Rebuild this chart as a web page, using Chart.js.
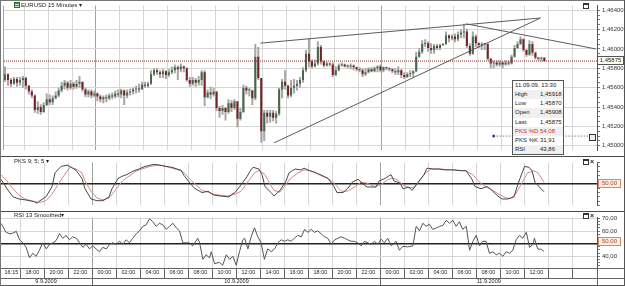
<!DOCTYPE html>
<html>
<head>
<meta charset="utf-8">
<title>EURUSD 15 Minutes</title>
<script src="https://cdn.jsdelivr.net/npm/chart.js@4.4.1/dist/chart.umd.min.js"></script>
<style>
    html, body { margin: 0; padding: 0; background: #fff; }
    #chart-box { position: relative; width: 625px; height: 286px; overflow: hidden; background: #fff;
        font-family: "Liberation Sans", Arial, sans-serif; font-size: 6px; color: #222; }
    #chart-box canvas { position: absolute; left: 0; }
    #price-canvas { top: 0; }
    #stoch-canvas { top: 157px; }
    #rsi-canvas { top: 212px; }
    .rule { position: absolute; background: #4a4a4a; }
    .txt { position: absolute; white-space: nowrap; line-height: 7px; }
    .ico-title { display: inline-block; width: 6px; height: 6px; margin-right: 1px; vertical-align: -1px;
        background: repeating-linear-gradient(#3d8b45 0 1px, #cfe8cf 1px 2px); border: 1px solid #2f6f35; box-sizing: border-box; }
    .ico-win { position: absolute; width: 4px; height: 3px; border: 1px solid #333; border-top-width: 2px; }
    .ico-x { position: absolute; font-size: 7px; font-weight: bold; line-height: 7px; }
    .level-box { position: absolute; left: 598px; width: 21px; height: 7px; line-height: 7px; border: 1px solid #e0865a;
        background: #fbefe6; color: #a3471c; text-align: center; }
    #last-box { position: absolute; left: 597px; top: 56px; width: 25px; height: 7px; line-height: 7px; border: 1px solid #555;
        background: #fffff0; text-align: center; }
    #alarm-box { position: absolute; left: 589px; top: 134px; width: 5px; height: 5px; border: 1px solid #334; background: #e6f3e6; }
    #info { position: absolute; left: 512px; top: 80px; width: 50px; height: 73px; border: 1px solid #555; background: #fff; }
    #info div { position: relative; height: 9.125px; line-height: 9px; padding-left: 2px; }
    #info div:nth-child(even) { background: #f0f0f0; }
    #info span { position: absolute; left: 27px; }
    #info .red { color: #c8322d; }
</style>
</head>
<body>
<div id="chart-box">
    <canvas id="price-canvas" width="625" height="156"></canvas>
    <canvas id="stoch-canvas" width="625" height="54"></canvas>
    <canvas id="rsi-canvas" width="625" height="74"></canvas>

    <div class="rule" style="left:0;top:156px;width:625px;height:1px"></div>
    <div class="rule" style="left:0;top:211px;width:625px;height:1px"></div>
    <div class="rule" style="left:0;top:268px;width:625px;height:1px;background:#666"></div>
    <div class="rule" style="left:0;top:278px;width:625px;height:1px;background:#666"></div>
    <div class="rule" style="left:597px;top:268px;width:1px;height:18px;background:#666"></div>
    <div class="rule" style="left:0;top:0;width:625px;height:1px;background:#777"></div>
    <div class="rule" style="left:0;top:285px;width:625px;height:1px;background:#555"></div>
    <div class="rule" style="left:0;top:0;width:1px;height:286px;background:#777"></div>
    <div class="rule" style="left:624px;top:0;width:1px;height:286px;background:#555"></div>

    <div class="txt" style="left:14px;top:2px"><span class="ico-title"></span>EURUSD 15 Minutes ▾</div>
    <div class="txt" style="left:14px;top:158px">PKS 9; 5; 5 ▾</div>
    <div class="txt" style="left:14px;top:212px">RSI 13 Smoothed▾</div>

    <div class="ico-win" style="left:583px;top:3px"></div>
    <div class="ico-win" style="left:583px;top:159px"></div>
    <div class="ico-x" style="left:590px;top:158px">×</div>
    <div class="ico-win" style="left:583px;top:213px"></div>
    <div class="ico-x" style="left:590px;top:212px">×</div>

    <div id="last-box">1,45875</div>
    <div class="level-box" style="top:179px">50,00</div>
    <div class="level-box" style="top:237px">50,00</div>
    <div id="alarm-box"></div>

    <div id="info">
        <div>11.09.09, 13:30</div>
        <div>High<span>1,45918</span></div>
        <div>Low<span>1,45870</span></div>
        <div>Open<span>1,45908</span></div>
        <div>Last<span>1,45875</span></div>
        <div class="red">PKS %D<span>54,08</span></div>
        <div>PKS %K<span>31,91</span></div>
        <div>RSI<span>43,86</span></div>
    </div>
</div>

<script>
// 15 minute bars, index 0 = 9.9.2009 16:15, last = 11.9.2009 13:30
var closes = [
    1.4574,1.4568,1.4564,1.4569,1.4565,1.4568,1.4570,1.4562,1.4556,1.4552,
    1.4537,1.4540,1.4535,1.4542,1.4548,1.4545,1.4549,1.4552,1.4557,1.4562,
    1.4565,1.4560,1.4564,1.4561,1.4564,1.4566,1.4558,1.4553,1.4556,1.4552,
    1.4554,1.4551,1.4548,1.4550,1.4549,1.4552,1.4551,1.4554,1.4553,1.4557,
    1.4552,1.4555,1.4556,1.4558,1.4559,1.4558,1.4563,1.4562,1.4564,1.4574,
    1.4578,1.4576,1.4574,1.4577,1.4573,1.4576,1.4578,1.4581,1.4579,1.4582,
    1.4580,1.4568,1.4564,1.4568,1.4565,1.4568,1.4576,1.4550,1.4555,1.4553,
    1.4556,1.4539,1.4536,1.4539,1.4535,1.4544,1.4539,1.4546,1.4528,1.4535,
    1.4560,1.4557,1.4557,1.4549,1.4592,1.4570,1.4515,1.4534,1.4530,1.4534,
    1.4529,1.4533,1.4558,1.4566,1.4562,1.4552,1.4560,1.4562,1.4564,1.4568,
    1.4578,1.4595,1.4587,1.4582,1.4585,1.4602,1.4587,1.4583,1.4585,1.4584,
    1.4573,1.4578,1.4583,1.4584,1.4582,1.4582,1.4583,1.4581,1.4579,1.4578,
    1.4574,1.4576,1.4579,1.4577,1.4580,1.4582,1.4578,1.4581,1.4580,1.4579,
    1.4577,1.4576,1.4578,1.4573,1.4571,1.4574,1.4575,1.4577,1.4592,1.4597,
    1.4605,1.4606,1.4601,1.4599,1.4603,1.4601,1.4604,1.4605,1.4614,1.4611,
    1.4613,1.4610,1.4615,1.4617,1.4618,1.4603,1.4595,1.4613,1.4606,1.4604,
    1.4605,1.4605,1.4590,1.4585,1.4586,1.4584,1.4586,1.4584,1.4586,1.4585,
    1.4592,1.4601,1.4605,1.4610,1.4599,1.4594,1.4605,1.4596,1.4591,1.4590,
    1.45908,1.45875
];
var highs = [
    1.4582,1.4575,1.4570,1.4571,1.4571,1.4571,1.4572,1.4571,1.4563,1.4558,
    1.4553,1.4546,1.4543,1.4545,1.4554,1.4553,1.4552,1.4556,1.4560,1.4566,
    1.4568,1.4567,1.4568,1.4566,1.4568,1.4572,1.4566,1.4560,1.4558,1.4558,
    1.4557,1.4555,1.4553,1.4552,1.4553,1.4554,1.4555,1.4557,1.4558,1.4559,
    1.4558,1.4558,1.4559,1.4560,1.4562,1.4564,1.4566,1.4566,1.4566,1.4578,
    1.4580,1.4580,1.4578,1.4579,1.4578,1.4579,1.4582,1.4584,1.4583,1.4585,
    1.4583,1.4581,1.4571,1.4571,1.4570,1.4572,1.4578,1.4578,1.4558,1.4561,
    1.4560,1.4556,1.4541,1.4542,1.4540,1.4548,1.4547,1.4548,1.4546,1.4539,
    1.4563,1.4562,1.4560,1.4558,1.4605,1.4602,1.4570,1.4537,1.4537,1.4537,
    1.4537,1.4536,1.4560,1.4569,1.4578,1.4563,1.4568,1.4569,1.4568,1.4571,
    1.4581,1.4599,1.4611,1.4589,1.4589,1.4608,1.4604,1.4588,1.4587,1.4586,
    1.4586,1.4582,1.4585,1.4586,1.4585,1.4584,1.4585,1.4584,1.4582,1.4581,
    1.4580,1.4580,1.4581,1.4581,1.4582,1.4583,1.4584,1.4582,1.4582,1.4581,
    1.4580,1.4580,1.4582,1.4579,1.4576,1.4576,1.4578,1.4578,1.4597,1.4601,
    1.4609,1.4610,1.4608,1.4606,1.4605,1.4605,1.4605,1.4606,1.4618,1.4615,
    1.4615,1.4616,1.4618,1.4620,1.4626,1.4621,1.4606,1.4618,1.4615,1.4607,
    1.4607,1.4606,1.4606,1.4591,1.4588,1.4588,1.4588,1.4587,1.4588,1.4588,
    1.4594,1.4604,1.4608,1.4613,1.4611,1.4600,1.4609,1.4608,1.4597,1.4592,
    1.4592,1.45918
];
var lows = [
    1.4566,1.4562,1.4561,1.4563,1.4561,1.4562,1.4560,1.4558,1.4553,1.4549,
    1.4534,1.4533,1.4532,1.4534,1.4541,1.4542,1.4542,1.4548,1.4550,1.4555,
    1.4558,1.4557,1.4558,1.4558,1.4559,1.4560,1.4556,1.4550,1.4550,1.4549,
    1.4550,1.4546,1.4545,1.4544,1.4545,1.4547,1.4548,1.4549,1.4550,1.4549,
    1.4542,1.4549,1.4552,1.4553,1.4554,1.4555,1.4558,1.4560,1.4560,1.4563,
    1.4572,1.4573,1.4570,1.4570,1.4569,1.4571,1.4574,1.4575,1.4568,1.4576,
    1.4576,1.4566,1.4561,1.4562,1.4561,1.4562,1.4562,1.4541,1.4549,1.4548,
    1.4551,1.4536,1.4529,1.4532,1.4526,1.4533,1.4535,1.4537,1.4519,1.4526,
    1.4534,1.4553,1.4551,1.4542,1.4547,1.4568,1.4503,1.4505,1.4523,1.4524,
    1.4525,1.4523,1.4531,1.4549,1.4558,1.4549,1.4550,1.4554,1.4557,1.4560,
    1.4565,1.4576,1.4581,1.4580,1.4581,1.4583,1.4584,1.4581,1.4582,1.4582,
    1.4571,1.4572,1.4577,1.4582,1.4581,1.4580,1.4579,1.4578,1.4577,1.4576,
    1.4571,1.4572,1.4575,1.4576,1.4576,1.4576,1.4576,1.4576,1.4578,1.4577,
    1.4575,1.4573,1.4573,1.4570,1.4569,1.4570,1.4571,1.4571,1.4576,1.4591,
    1.4595,1.4602,1.4597,1.4595,1.4595,1.4599,1.4599,1.4603,1.4604,1.4607,
    1.4609,1.4607,1.4608,1.4611,1.4611,1.4601,1.4593,1.4594,1.4602,1.4601,
    1.4599,1.4599,1.4588,1.4580,1.4580,1.4582,1.4582,1.4580,1.4583,1.4583,
    1.4584,1.4591,1.4600,1.4604,1.4597,1.4592,1.4593,1.4593,1.4589,1.4588,
    1.4587,1.45870
];
var first_open = 1.4568;
var last_price = 1.45875;

var time_labels = ['16:15','18:00','20:00','22:00','00:00','02:00','04:00','06:00','08:00','10:00','12:00','14:00',
    '16:00','18:00','20:00','22:00','00:00','02:00','04:00','06:00','08:00','10:00','12:00','',''];
var time_tick_idx = [-0.5,6.5,14.5,22.5,30.5,38.5,46.5,54.5,62.5,70.5,78.5,86.5,
    94.5,102.5,110.5,118.5,126.5,134.5,142.5,150.5,158.5,166.5,174.5,182.5,190.5];
var day_labels = ['9.9.2009', '10.9.2009', '11.9.2009'];
var day_start_idx = [-0.5, 30.5, 126.5];
var price_ticks = [1.450, 1.452, 1.454, 1.456, 1.458, 1.460, 1.462, 1.464];
var rsi_ticks = [40, 60, 70];

// slow stochastic 9;5;5
var k_idx = [0,2,4,6,8,11,12,13,15,17,18,20,22,23,25,27,28,30,32,34,36,37,39,41,42,44,46,48,51,53,55,57,60,61,63,64.5,
    67,69,71,73,76,77,78,80,82,83,84,86,87,88,90,91,93,95,96,98,100,101,103,105,107,109,111,112,114,116,117,119,121,122,
    125,126,128,130,131,133,134,136,137,139,141,142,144,146,148,151,153,155,157,158,160,162,163,165,166,167,169,171,172,
    173,174.5,176,177,178,180,181];
var k_vals = [61,39,20,15,13,9,5,11,20,44,76,91,94,91,82,63,39,15,11,11,20,39,63,70,72,80,85,91,96,94,91,89,82,70,52,40,
    30,33,24,22,20,26,30,48,67,80,89,85,72,44,30,22,35,57,76,85,83,87,81,76,70,63,44,30,30,43,54,61,48,43,
    43,57,63,72,57,52,39,43,35,54,72,87,85,85,83,83,81,81,61,44,39,44,39,26,20,15,15,20,43,
    63,91,89,81,54,39,31.91];
var d_idx = [0,2,4,6,8,11,13,15,17,19.5,22,23,25,27,28,30,32,34,36,38,40.5,43,45,47,49.5,52,54,56,58,60.5,63,65,67,69,
    71,73,75.5,78,80,82,84.5,86,88,89.5,91,93,94.5,96.5,99,101,103,104.5,106.5,109,111,113.5,115.5,118,120,122,124.5,
    126.5,129,130.5,132,134,136,138,139.5,141.5,143.5,146,150.5,155,157.5,159.5,161.5,164,166,168.5,170,171.5,174,175.5,
    177.5,179,181];
var d_vals = [72,57,39,24,15,9,7,11,26,54,80,89,85,76,57,33,17,13,17,35,57,70,80,85,91,94,93,89,85,80,61,48,35,31,
    26,24,22,26,33,52,76,82,72,52,35,31,44,63,76,83,81,78,70,63,52,33,33,44,54,52,44,
    48,60,64,60,48,41,43,57,76,85,85,83,81,70,54,44,35,26,17,17,26,57,76,
    81,76,54.08];

// RSI 13 smoothed
var rsi_idx = [0,0.6,1.7,2.8,3.9,5.1,6.2,7.3,8.4,9.5,10.6,11.7,12.8,13.9,15.1,16.2,17.3,18.4,19.5,20.6,21.7,22.8,23.9,
    25.1,26.2,27.3,28.4,29.5,30.6,31.7,32.8,33.9,35.1,36.2,37.3,38.4,39.5,40.6,41.7,42.8,43.9,45.1,46.2,47.3,48.4,49.5,
    50.6,51.7,52.8,53.9,55.1,56.2,57.3,58.4,59.5,60.6,61.7,62.8,63.9,65.6,66.2,67.3,68.4,69.5,70.1,71.2,72.8,73.9,75.1,
    76.2,77.3,78.4,79.5,80.6,81.2,82.3,83.4,84.5,85.6,86.7,87.8,88.9,90.1,91.2,92.3,93.4,94.5,95.6,96.7,97.8,98.9,100.1,
    101.2,102.3,103.4,104.5,105.6,106.7,107.8,108.9,110.1,111.2,112.3,113.4,114.5,115.6,116.7,117.8,118.9,120.1,121.2,
    122.3,123.4,124.5,125.6,126.7,127.8,128.9,130.1,131.7,132.8,133.9,135.6,137.3,138.4,139.5,140.6,141.7,142.8,143.9,
    145.1,146.2,147.3,148.4,149.5,150.6,151.7,152.8,153.9,155.1,156.2,157.3,158.4,159.5,160.6,161.7,162.8,163.9,165.1,
    166.2,167.3,168.4,169.5,170.6,171.7,172.8,173.9,175.1,176.2,177.3,177.8,178.9,180.1,181];
var rsi_vals = [66.2,63.8,59,57.9,58.3,59.8,53.1,50.7,47.1,38.8,42.4,40,44.8,50.7,45.9,49.5,50.7,52.6,57.9,54.3,56.6,53.1,55.5,
    54.3,50.7,47.1,49.5,45.9,48.3,45.9,43.6,47.1,45.9,49.5,50.7,49.5,51.9,49.5,53.1,50.7,54.3,57.9,60.2,63.8,65,69.8,
    67.4,63.8,66.2,65,61.4,63.8,66.2,62.6,60.2,50.7,50.7,50.7,48.3,54.3,50.7,37.6,41.2,38.8,43.6,34.1,35.2,32.9,41.2,
    37.6,40,32.9,43.6,53.1,54.3,45.9,55.5,62.6,55.5,50.7,37.6,45.9,43.6,45.9,50.7,53.1,51.9,53.1,51.9,54.3,56.6,55.5,
    61.4,59,61.4,59,60.2,57.9,55.5,54.3,49.5,53.1,54.3,55.5,54.3,53.1,51.9,51.9,50.7,48.3,51.9,
    50.7,49.5,51.9,49.5,53.6,50.7,54.3,48.3,51.9,44.8,47.9,47.5,48.3,63.8,60.2,66.2,63.8,65.5,61.4,
    62.5,63.8,64.5,68.6,66.2,68.6,63.8,67.4,61.4,63.8,44.8,51.9,56.6,48.3,51.9,51.9,42.4,43.6,41.2,
    42.4,40,43.6,42.4,44.8,53.1,56.6,54.3,59,47.1,49.5,54.3,45.9,45.5,43.86];

// drawn trend lines: [bar index, price]
var trend_upper = [[85.7, 1.4606], [179.7, 1.4632]];
var trend_lower = [[90.3, 1.4503], [179.7, 1.4632]];
var trend_down = [[154.7, 1.4626], [198.3, 1.4600]];
var alarm_line = [[164, 1.4510], [196, 1.4510]];

var X_MIN = -1 / 3;
var X_MAX = 198 + 2 / 3;
var FONT = '"Liberation Sans", Arial, sans-serif';

Chart.defaults.font.family = FONT;
Chart.defaults.font.size = 6;
Chart.defaults.color = '#222';

var opens = [first_open].concat(closes.slice(0, -1));

drawPriceChart();
drawStochChart();
drawRsiChart();

function baseOptions(scales)
{
    return {
        responsive: false,
        animation: false,
        devicePixelRatio: 1,
        events: [],
        layout: { padding: 0 },
        plugins: { legend: { display: false }, tooltip: { enabled: false } },
        scales: scales
    };
}

function timeGridColor(ctx)
{
    if (!ctx.tick) {
        return 'transparent';
    }
    return day_start_idx.indexOf(ctx.tick.value) >= 0 ? '#a0a0a0' : '#d6d6d6';
}

function setTimeTicks(scale)
{
    scale.ticks = time_tick_idx.map(function (v) { return { value: v }; });
}

function gridOnlyX()
{
    return {
        type: 'linear', min: X_MIN, max: X_MAX, offset: false,
        afterBuildTicks: setTimeTicks,
        afterFit: function (scale) { scale.height = 0; },
        grid: { color: timeGridColor, drawTicks: false, offset: false },
        border: { display: false },
        ticks: { display: false }
    };
}

function rightAxis(min, max, tick_values, label_fn, grid_fn, width_fn)
{
    return {
        position: 'right', min: min, max: max,
        afterFit: function (scale) { scale.width = 28; },
        afterBuildTicks: function (scale) {
            scale.ticks = tick_values.map(function (v) { return { value: v }; });
        },
        grid: { color: grid_fn, lineWidth: width_fn || 1, tickColor: '#777', tickLength: 3 },
        border: { color: '#555' },
        ticks: { autoSkip: false, padding: 2, color: '#333', font: { size: 6 }, callback: label_fn }
    };
}

function pts(idx, vals)
{
    return idx.map(function (x, i) { return { x: x, y: vals[i] }; });
}

function pairPts(pairs)
{
    return pairs.map(function (p) { return { x: p[0], y: p[1] }; });
}

function lineSet(data, color, width, dash)
{
    return {
        type: 'line', data: data, borderColor: color, borderWidth: width || 1, borderDash: dash || [],
        pointRadius: 0, fill: false, tension: 0, order: 0
    };
}

function isPriceTick(v)
{
    var n = Math.round(v * 10000);
    return price_ticks.some(function (p) { return Math.round(p * 10000) === n; });
}

function drawPriceChart()
{
    var bodies = closes.map(function (c, i) { return { x: i, y: [opens[i], c] }; });
    var body_colors = closes.map(function (c, i) { return c >= opens[i] ? '#46674a' : '#742222'; });
    var wicks = closes.map(function (c, i) { return { x: i, y: [lows[i], highs[i]] }; });

    var minor = [];
    for (var n = 14500; n <= 14640; n += 5) {
        minor.push(n / 10000);
    }

    new Chart(document.getElementById('price-canvas'), {
        type: 'bar',
        data: {
            datasets: [
                lineSet(pairPts([[X_MIN, last_price], [X_MAX, last_price]]), '#9a2a2a', 1, [1, 1]),
                lineSet(pairPts(trend_upper), '#5c5c5c'),
                lineSet(pairPts(trend_lower), '#5c5c5c'),
                lineSet(pairPts(trend_down), '#5c5c5c'),
                {
                    type: 'line', data: pairPts(alarm_line), borderColor: '#3c3c7a', borderWidth: 1, borderDash: [1, 2],
                    pointRadius: [1.5, 0], pointBackgroundColor: '#3c3c7a', pointBorderWidth: 0, fill: false, order: 0
                },
                {
                    data: bodies, backgroundColor: body_colors, barThickness: 2, grouped: false,
                    inflateAmount: 0, minBarLength: 1, borderWidth: 0, order: 1
                },
                {
                    data: wicks, backgroundColor: '#a6a6a6', barThickness: 2, grouped: false,
                    inflateAmount: 0, borderWidth: 0, order: 2
                }
            ]
        },
        options: baseOptions({
            x: gridOnlyX(),
            y: rightAxis(1.44952, 1.46448, minor,
                function (v) { return isPriceTick(v) ? v.toFixed(5).replace('.', ',') : ''; },
                function (ctx) { return ctx.tick && isPriceTick(ctx.tick.value) ? '#d6d6d6' : 'transparent'; })
        })
    });
}

function drawStochChart()
{
    var minor = [];
    for (var v = 0; v <= 100; v += 10) {
        minor.push(v);
    }
    new Chart(document.getElementById('stoch-canvas'), {
        type: 'line',
        data: {
            datasets: [
                lineSet(pts(k_idx, k_vals), '#484848'),
                lineSet(pts(d_idx, d_vals), '#d48a8a')
            ]
        },
        options: baseOptions({
            x: gridOnlyX(),
            y: rightAxis(0, 100, minor,
                function () { return ''; },
                function (ctx) { return ctx.tick && ctx.tick.value === 50 ? '#222' : 'transparent'; },
                function (ctx) { return ctx.tick && ctx.tick.value === 50 ? 1.5 : 1; })
        })
    });
}

function drawRsiChart()
{
    var minor = [];
    for (var v = 32.5; v <= 70; v += 2.5) {
        minor.push(v);
    }
    var date_ticks = [];
    var date_labels = [];
    for (var i = 0; i < day_start_idx.length; i++) {
        var end = i + 1 < day_start_idx.length ? day_start_idx[i + 1] : X_MAX;
        date_ticks.push(day_start_idx[i]);
        date_labels.push('');
        date_ticks.push((day_start_idx[i] + end) / 2);
        date_labels.push(day_labels[i]);
    }

    new Chart(document.getElementById('rsi-canvas'), {
        type: 'line',
        data: {
            datasets: [ lineSet(pts(rsi_idx, rsi_vals), '#555555') ]
        },
        options: baseOptions({
            x: {
                type: 'linear', min: X_MIN, max: X_MAX, offset: false,
                afterBuildTicks: setTimeTicks,
                afterFit: function (scale) { scale.height = 10; },
                grid: { color: timeGridColor, tickColor: '#666', tickLength: 10, offset: false },
                border: { display: false },
                ticks: {
                    autoSkip: false, maxRotation: 0, minRotation: 0, align: 'start', labelOffset: 5, padding: -9,
                    color: '#222', font: { size: 5.5 },
                    callback: function (v, i) { return time_labels[i]; }
                }
            },
            xd: {
                axis: 'x', type: 'linear', position: 'bottom', min: X_MIN, max: X_MAX, offset: false,
                afterBuildTicks: function (scale) {
                    scale.ticks = date_ticks.map(function (v) { return { value: v }; });
                },
                afterFit: function (scale) { scale.height = 8; },
                grid: {
                    drawOnChartArea: false, tickLength: 8,
                    tickColor: function (ctx) { return ctx.index % 2 === 1 ? 'transparent' : '#666'; }
                },
                border: { display: false },
                ticks: {
                    autoSkip: false, maxRotation: 0, minRotation: 0, padding: -8, color: '#222', font: { size: 5.5 },
                    callback: function (v, i) { return date_labels[i]; }
                }
            },
            y: rightAxis(30.71, 70.71, minor,
                function (v) { return rsi_ticks.indexOf(v) >= 0 ? v.toFixed(2).replace('.', ',') : ''; },
                function (ctx) {
                    if (!ctx.tick) { return 'transparent'; }
                    if (ctx.tick.value === 50) { return '#222'; }
                    return rsi_ticks.indexOf(ctx.tick.value) >= 0 ? '#d6d6d6' : 'transparent';
                },
                function (ctx) { return ctx.tick && ctx.tick.value === 50 ? 1.5 : 1; })
        })
    });
}
</script>
</body>
</html>
